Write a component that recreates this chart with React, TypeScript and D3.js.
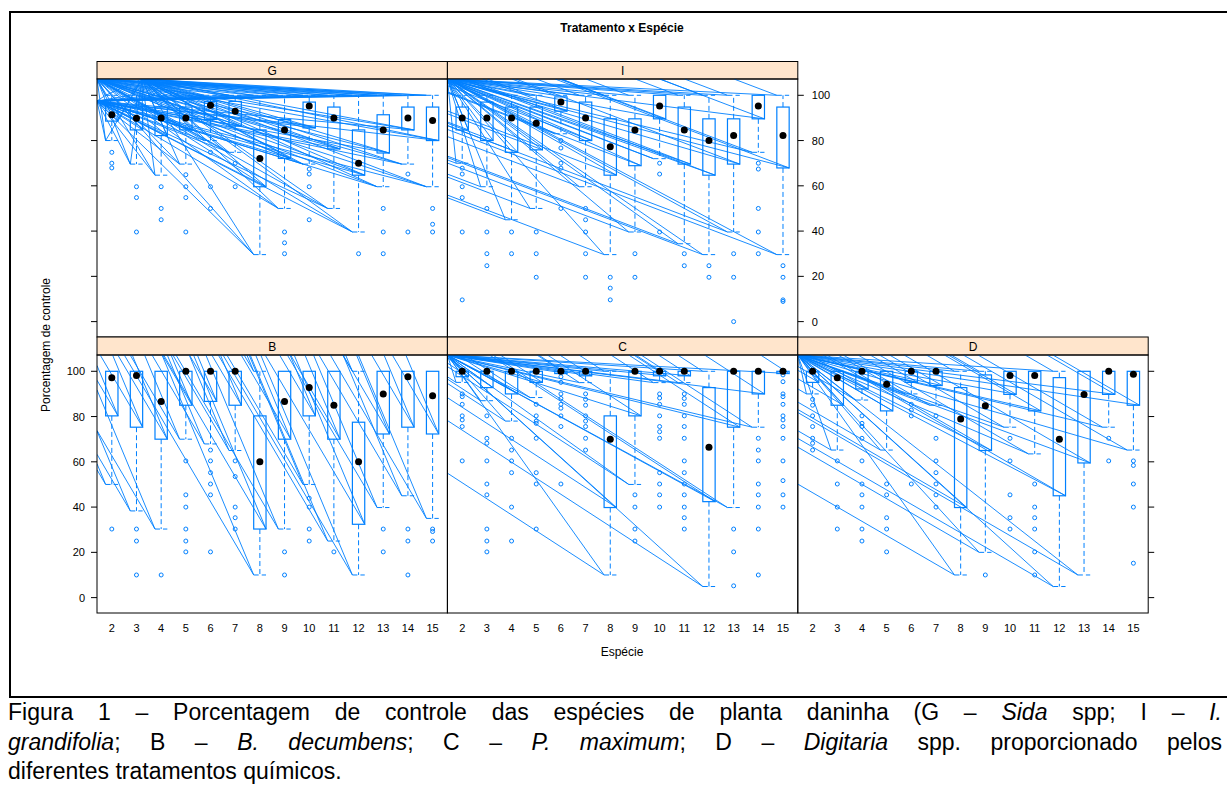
import React, { useEffect, useRef } from "react";
import * as d3 from "d3";

// ---------------- DATA ----------------
const species = [2, 3, 4, 5, 6, 7, 8, 9, 10, 11, 12, 13, 14, 15];
const yTicks = [0, 20, 40, 60, 80, 100];
const panelNames = ["G", "I", "B", "C", "D"];

// [lower whisker, Q1, median, Q3, upper whisker] for species 2..15
const statsG = [
  [80, 88.6, 91.4, 97.8, 100], [69.6, 84.7, 89.9, 94.8, 100], [64.7, 82.2, 90, 94.8, 100],
  [69.6, 84.7, 90, 94.8, 100], [80, 89.3, 95.6, 97.3, 100], [74.8, 86.4, 93, 97.3, 100],
  [29.6, 59.6, 72.1, 84.7, 100], [50, 72.1, 84.7, 89.3, 100], [69.6, 85.6, 95.3, 97, 100],
  [50, 76.3, 90, 94.8, 100], [39.6, 64.7, 70, 84.7, 100], [59.6, 74.5, 84.7, 91.4, 100],
  [69.6, 84.7, 90, 94.8, 100], [59.6, 80, 88.9, 94.8, 100],
];
const outG = [
  [74.8, 70, 67.9], [59.6, 54.8, 39.6], [59.6, 50, 45], [64.9, 59.6, 54.8, 39.6],
  [74.8, 59.6, 50], [70, 59.6], [], [39.6, 34.8, 30], [67.4, 65.2, 59.6, 45], [],
  [30], [50, 39.6, 30], [65.2, 39.6], [50, 43, 39.6],
];

const statsI = [
  [70, 84.7, 90, 94.8, 100], [59.6, 80, 90, 97, 100], [45, 74.8, 90, 94.8, 100],
  [50, 75.9, 87.7, 94.8, 100], [83, 93, 97, 99.3, 100], [59.6, 80, 90, 97, 100],
  [29.6, 64.7, 77.3, 89.6, 100], [39.6, 68.9, 84.7, 89.6, 100], [72, 89.6, 95.3, 100, 100],
  [34.4, 69.6, 84.7, 94.8, 100], [29.6, 64.7, 80, 89.6, 100], [39.6, 69.6, 82.2, 89.6, 100],
  [74.8, 89.6, 95.3, 100, 100], [29.6, 67.9, 82.2, 94.8, 100],
];
const outI = [
  [67.8, 65.2, 59.6, 54.8, 39.6, 9.6], [50, 39.6, 30, 24.7], [39.6, 30], [39.6, 30, 19.6],
  [80, 76.7, 70, 67.8, 50], [50, 45, 39.6, 30, 19.6], [19.6, 14.8, 9.6], [30, 19.6],
  [70, 65.2, 39.6], [30, 24.7], [24.7, 19.6], [30, 19.6, 0], [70, 67.4, 50, 39.6, 30],
  [24.7, 19.6, 9.6, 8.9],
];

const statsB = [
  [50, 80.3, 97.2, 100, 100], [38.3, 75.3, 98.1, 100, 100], [30.3, 70, 86.6, 100, 100],
  [70, 85, 100, 100, 100], [67.9, 86.7, 100, 100, 100], [65, 85, 100, 100, 100],
  [10, 30.3, 60, 80.3, 100], [30.3, 70, 86.6, 100, 100], [50, 80.3, 92.8, 100, 100],
  [25, 70, 85, 100, 100], [10, 32.4, 60, 77.5, 100], [39.8, 72.3, 90, 100, 100],
  [45, 75.3, 97.6, 100, 100], [35, 72.3, 89.2, 100, 100],
];
const outB = [
  [30.3], [30.3, 25, 10], [10], [60.4, 45.4, 40, 30.3, 25, 20.2],
  [65.2, 60.4, 55.2, 50.2, 45.4, 20.2], [60.4, 53.5, 40, 35.3, 30.3], [], [20.2, 10],
  [43.9, 40, 30.3, 25], [20.2], [], [30.3, 20.2], [30.3, 25, 10], [30.3, 29.2, 25],
];

const statsC = [
  [95.1, 97.6, 100, 100, 100], [87, 92.8, 100, 100, 100], [78, 90, 100, 100, 100],
  [88.4, 95.1, 100, 100, 100], [99, 99, 100, 100, 100], [95, 98, 100, 100, 100],
  [10, 39.8, 70, 80.3, 100], [50, 80.3, 100, 100, 100], [95, 98, 100, 100, 100],
  [95, 98, 100, 100, 100], [4.9, 42.4, 66.4, 92.8, 100], [39.8, 75.3, 100, 100, 100],
  [75.3, 90, 100, 100, 100], [99, 99, 100, 100, 100],
];
const outC = [
  [90, 88.8, 85.4, 80.3, 78.5, 75.6, 60.4],
  [80.3, 70.4, 68.2, 60.4, 50.2, 45.4, 30.3, 25, 20.2],
  [70.4, 65.2, 60.4, 55.2, 40, 25],
  [85.4, 80.3, 78, 77, 70.4, 55.2, 50.2, 30.3],
  [97.6, 95.1, 90, 88, 85.4, 83.7, 80.3, 75.6, 50.2],
  [90, 87.6, 85, 80.3, 78, 75.6, 70.4, 65.2],
  [],
  [45.4, 40, 30.3, 25],
  [90, 88.2, 85.4, 80.3, 75.6, 73.3, 70.4, 55.2, 50.2, 45.4, 40],
  [90, 88, 85.4, 80.3, 75.6, 70.4, 60.4, 55.2, 50.2, 45.4, 40, 35.3, 30.3],
  [],
  [30.3, 20.2, 5.2],
  [70.4, 65.2, 60.4, 50.2, 45.4, 40, 30.3, 10],
  [98.4, 95.4, 90, 88.8, 85.4, 80.3, 78.5, 75.6, 70.4, 60.4, 51.7, 45.4, 40],
];

const statsD = [
  [90, 95.1, 100, 100, 100], [65.2, 85, 97.2, 100, 100], [87.3, 92.2, 100, 100, 100],
  [65.2, 82.5, 94.3, 100, 100], [90, 95.1, 100, 100, 100], [85, 93.7, 100, 100, 100],
  [10, 39.8, 78.9, 92.8, 100], [20, 65, 84.8, 98.4, 100], [75.3, 89.8, 98.1, 100, 100],
  [63.5, 82.5, 98.1, 100, 100], [4.9, 45, 70, 97.2, 100], [10, 59.5, 89.8, 100, 100],
  [75.3, 89.8, 100, 100, 100], [65.2, 85, 98.7, 100, 100],
];
const outD = [
  [87.6, 85, 80.3, 75.6, 70.4, 68.2, 65.2], [60.4, 50.2, 40, 30.3],
  [80.3, 77, 75.6, 70.4, 60.4, 50.2, 45.4, 40, 30.3, 25], [50.2, 45.4, 35.3, 30.3, 20.2],
  [85.4, 82.9, 80.3, 50.2], [80.3, 70.4, 60.4, 55.2, 50.2, 45.4, 40], [], [10],
  [70.4, 60.4, 45.4, 35.3, 30.3], [50.2, 40, 35.3, 30.3, 20.2, 10], [], [], [70.4, 60.4],
  [60.4, 58.4, 50.2, 40, 15.2],
];

const statsByPanel = [statsG, statsI, statsB, statsC, statsD];
const outByPanel = [outG, outI, outB, outC, outD];

// ---------------- LAYOUT / STYLE ----------------
const FONT = "'Liberation Sans', Arial, sans-serif";
const BLUE = "#0080ff";
const STRIP = "#ffe5cc";
const colX0 = 97;
const colW = 350.4;
const rows = [
  { stripTop: 61.5, top: 79, bottom: 337 },
  { stripTop: 337, top: 355, bottom: 613 },
];
const panelPos = [
  { col: 0, row: 0 }, { col: 1, row: 0 },
  { col: 0, row: 1 }, { col: 1, row: 1 }, { col: 2, row: 1 },
];
// stray-stroke rendering of the original: fan origins (px offsets from panel top-left) and parallel slopes
const strayFan = [[[0, 0], [0, 22], [45, 0]], [[0, 0]], [], [[0, 0]], [[0, 0]]];
const straySlopes = [[], [0.38], [2.4, 1.7], [0.65], [0.58]];

const CAP_SIZE = 23;

function CapLine({ x, y, width, justify, children }: any) {
  const ref = useRef<SVGTextElement>(null);
  useEffect(() => {
    const el = ref.current;
    if (!el || !justify) return;
    el.style.wordSpacing = "0px";
    const w = el.getComputedTextLength();
    const spaces = (el.textContent || "").split(" ").length - 1;
    if (spaces > 0) el.style.wordSpacing = (width - w) / spaces + "px";
  }, []);
  return (
    <text ref={ref} x={x} y={y} fontSize={CAP_SIZE} fontFamily={FONT} fill="#000">
      {children}
    </text>
  );
}

function Panel({ idx }: { idx: number }) {
  const { col, row } = panelPos[idx];
  const r = rows[row];
  const x0 = colX0 + col * colW;
  const x1 = x0 + colW;
  const xs = d3.scalePoint<number>().domain(species).range([x0, x1]).padding(0.6);
  const y = d3.scaleLinear().domain([-6.8, 107.2]).range([r.bottom, r.top]);
  const bw = xs.step() * 0.5;
  const stats = statsByPanel[idx];
  const outs = outByPanel[idx];
  const clipId = "clip" + idx;

  const ends: [number, number][] = [];
  stats.forEach((s, i) => {
    const cx = xs(species[i])!;
    const [lo, q1, , q3, hi] = s;
    if (lo < q1) ends.push([cx - bw / 2, y(lo)]);
    if (hi > q3) ends.push([cx - bw / 2, y(hi)]);
    ends.push([cx + bw / 2, y(q1)]);
  });
  const stray: string[] = [];
  ends.forEach(([ex, ey]) => {
    strayFan[idx].forEach(([ox, oy]) => {
      stray.push(d3.line()([[x0 + ox, r.top + oy], [ex, ey]])!);
    });
    straySlopes[idx].forEach((s) => {
      const t = Math.min(ex - x0, (ey - r.top) / s);
      stray.push(d3.line()([[ex - t, ey - s * t], [ex, ey]])!);
    });
  });

  return (
    <g>
      <defs>
        <clipPath id={clipId}>
          <rect x={x0} y={r.top} width={colW} height={r.bottom - r.top} />
        </clipPath>
      </defs>
      <rect x={x0} y={r.stripTop} width={colW} height={r.top - r.stripTop} fill={STRIP} stroke="#000" strokeWidth={1} />
      <text x={(x0 + x1) / 2} y={r.stripTop + (r.top - r.stripTop) / 2 + 4.5} textAnchor="middle" fontSize={12} fontFamily={FONT}>
        {panelNames[idx]}
      </text>
      <g clipPath={`url(#${clipId})`}>
        {stray.map((d, k) => (
          <path key={k} d={d} stroke={BLUE} strokeWidth={0.9} fill="none" />
        ))}
        {stats.map((s, i) => {
          const cx = xs(species[i])!;
          const [lo, q1, med, q3, hi] = s;
          return (
            <g key={i}>
              {hi > q3 && (
                <>
                  <line x1={cx} x2={cx} y1={y(q3)} y2={y(hi)} stroke={BLUE} strokeDasharray="5,3" />
                  <line x1={cx - bw / 2} x2={cx + bw / 2} y1={y(hi)} y2={y(hi)} stroke={BLUE} strokeDasharray="5,3" />
                </>
              )}
              {lo < q1 && (
                <>
                  <line x1={cx} x2={cx} y1={y(q1)} y2={y(lo)} stroke={BLUE} strokeDasharray="5,3" />
                  <line x1={cx - bw / 2} x2={cx + bw / 2} y1={y(lo)} y2={y(lo)} stroke={BLUE} strokeDasharray="5,3" />
                </>
              )}
              <rect x={cx - bw / 2} y={y(q3)} width={bw} height={Math.max(0.5, y(q1) - y(q3))} fill="none" stroke={BLUE} strokeWidth={1.2} />
              {outs[i].map((v, k) => (
                <circle key={k} cx={cx} cy={y(v)} r={2} fill="none" stroke={BLUE} strokeWidth={1} />
              ))}
              <circle cx={cx} cy={y(med)} r={3.5} fill="#000" />
            </g>
          );
        })}
      </g>
      <rect x={x0} y={r.top} width={colW} height={r.bottom - r.top} fill="none" stroke="#000" strokeWidth={1} />
      {col === 0 &&
        yTicks.map((t) => (
          <g key={t}>
            <line x1={x0 - 6} x2={x0} y1={y(t)} y2={y(t)} stroke="#000" />
            {row === 1 && (
              <text x={x0 - 12} y={y(t) + 4} textAnchor="end" fontSize={11} fontFamily={FONT}>
                {t}
              </text>
            )}
          </g>
        ))}
      {((row === 0 && col === 1) || (row === 1 && col === 2)) &&
        yTicks.map((t) => (
          <g key={t}>
            <line x1={x1} x2={x1 + 6} y1={y(t)} y2={y(t)} stroke="#000" />
            {row === 0 && (
              <text x={x1 + 14} y={y(t) + 4} textAnchor="start" fontSize={11} fontFamily={FONT}>
                {t}
              </text>
            )}
          </g>
        ))}
      {row === 1 &&
        species.map((s) => (
          <text key={s} x={xs(s)!} y={632} textAnchor="middle" fontSize={11} fontFamily={FONT}>
            {s}
          </text>
        ))}
    </g>
  );
}

export default function App() {
  return (
    <svg width={1227} height={791} style={{ position: "absolute", left: 0, top: 0, background: "#fff" }}>
      <rect x={0} y={0} width={1227} height={791} fill="#fff" />
      <path d="M1240,12 H10 V697 H1240" fill="none" stroke="#000" strokeWidth={2} />
      <text x={622} y={32} textAnchor="middle" fontSize={12} fontWeight="bold" fontFamily={FONT}>
        Tratamento x Espécie
      </text>
      {panelNames.map((_, i) => (
        <Panel key={i} idx={i} />
      ))}
      <text x={622} y={656} textAnchor="middle" fontSize={12} fontFamily={FONT}>
        Espécie
      </text>
      <text transform="translate(50,345) rotate(-90)" textAnchor="middle" fontSize={12} fontFamily={FONT}>
        Porcentagem de controle
      </text>
      <CapLine x={8} y={720} width={1214} justify>
        Figura 1 – Porcentagem de controle das espécies de planta daninha (G – <tspan fontStyle="italic">Sida</tspan> spp; I – <tspan fontStyle="italic">I.</tspan>
      </CapLine>
      <CapLine x={8} y={750} width={1214} justify>
        <tspan fontStyle="italic">grandifolia</tspan>; B – <tspan fontStyle="italic">B. decumbens</tspan>; C – <tspan fontStyle="italic">P. maximum</tspan>; D – <tspan fontStyle="italic">Digitaria</tspan> spp. proporcionado pelos
      </CapLine>
      <CapLine x={8} y={779} width={0} justify={false}>
        diferentes tratamentos químicos.
      </CapLine>
    </svg>
  );
}
